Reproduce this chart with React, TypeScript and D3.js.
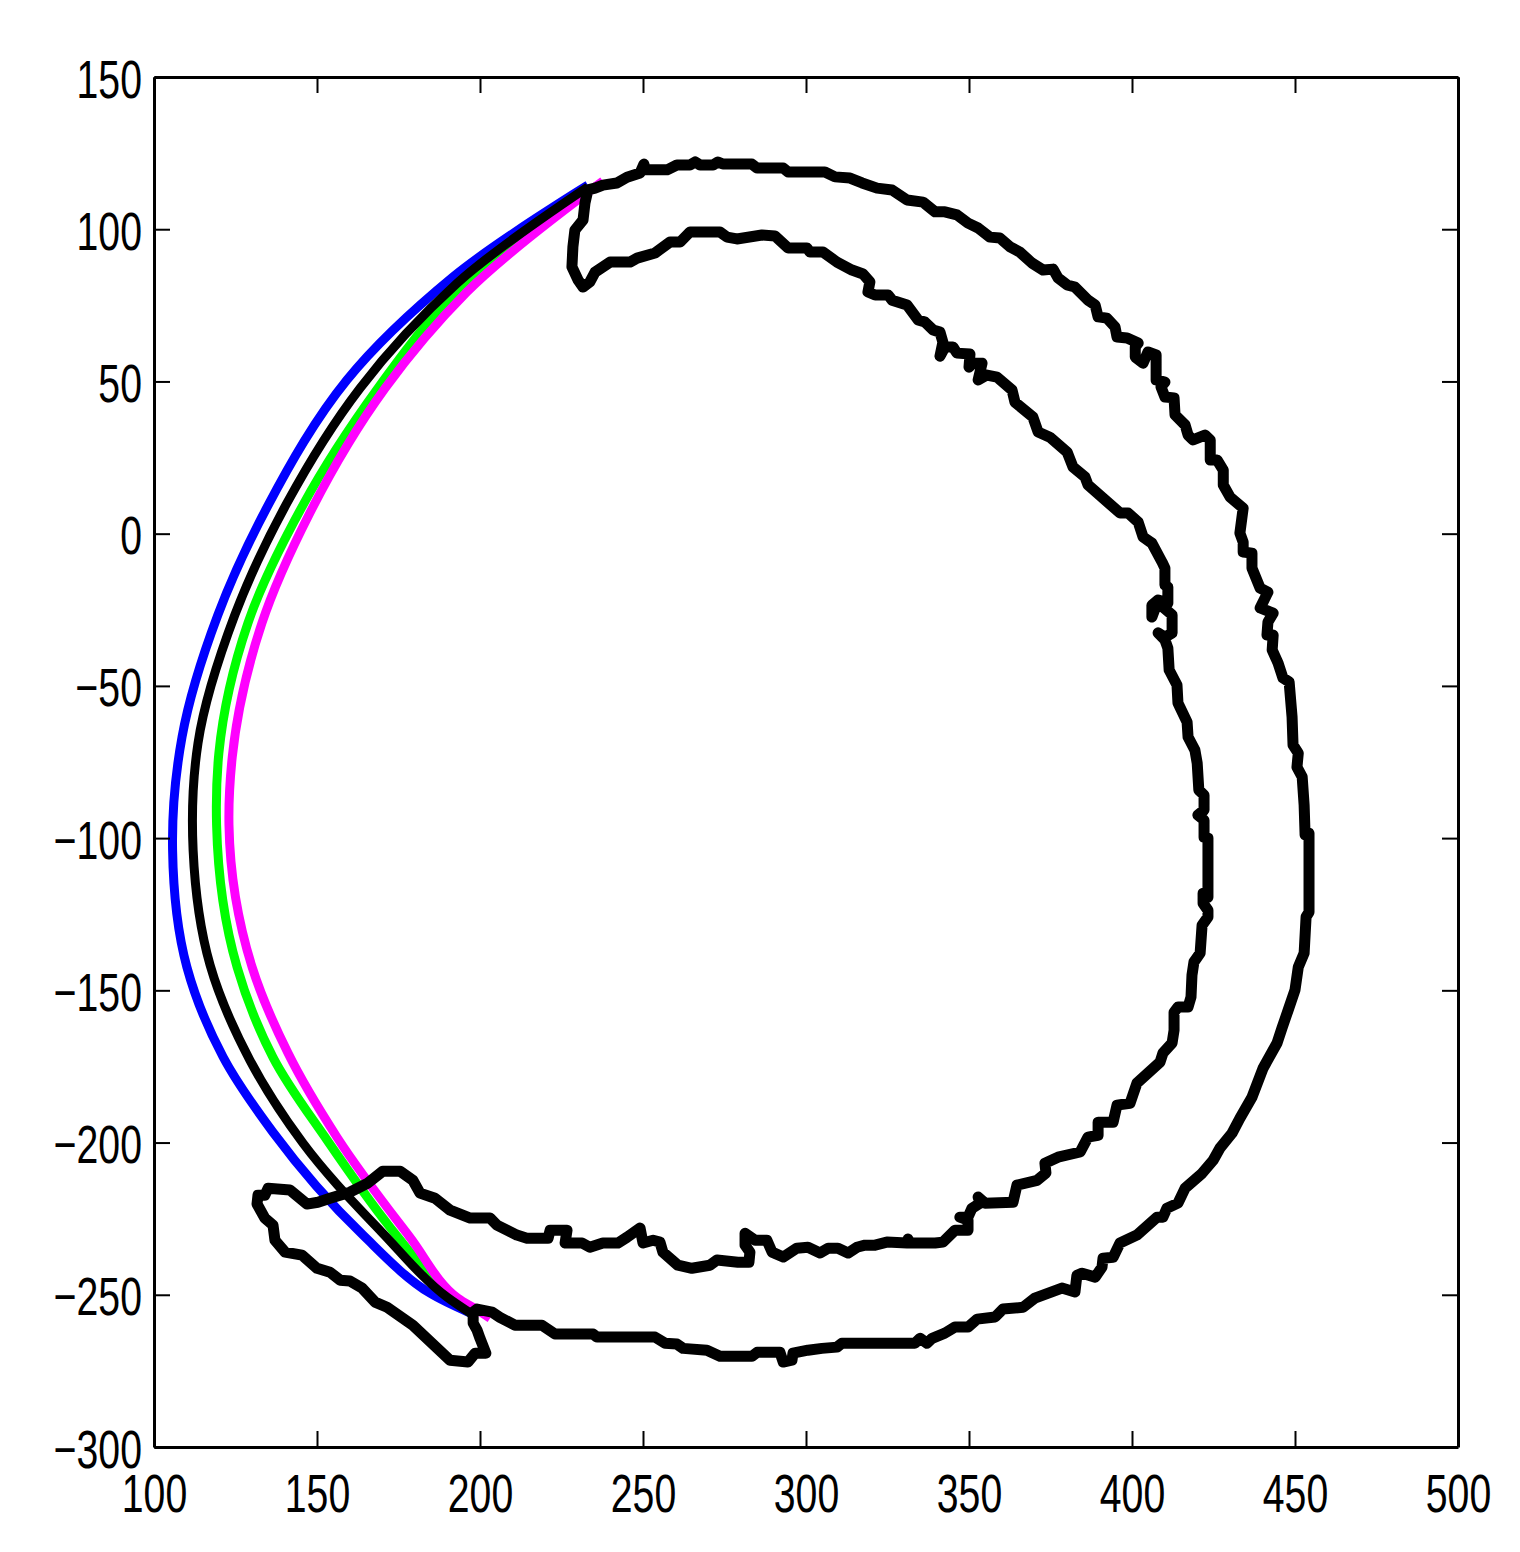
import React, { useEffect, useRef } from 'react';
import * as d3 from 'd3';

type Pt = [number, number];

const xTickValues = [100, 150, 200, 250, 300, 350, 400, 450, 500];
const yTickValues = [150, 100, 50, 0, -50, -100, -150, -200, -250, -300];

const blueCurve: Pt[] = [
  [233.1, 114.5], [191.7, 84.3], [159.2, 50.5], [134.7, 8.7], [119.6, -26.7], [108.6, -66.8], [105.7, -103.9],
  [110.1, -142.4], [121.2, -171.9], [136.5, -196.6], [164.1, -230.4], [184.7, -249.5], [197.0, -256.0],
];

const blackCurve: Pt[] = [
  [233.1, 113.9], [193.0, 82.3], [163.2, 47.8], [140.8, 10.1], [124.8, -26.7], [113.5, -68.8], [112.0, -104.0],
  [117.2, -141.7], [129.4, -172.9], [145.7, -200.2], [170.2, -229.8], [189.9, -250.8], [197.0, -256.0],
];

const greenCurve: Pt[] = [
  [233.1, 113.5], [193.9, 81.0], [168.7, 47.8], [145.7, 9.4], [128.8, -29.4], [119.9, -72.1], [119.2, -95.7],
  [125.5, -142.4], [136.5, -172.0], [153.1, -199.2], [172.4, -227.8], [189.9, -249.5], [197.0, -256.0],
];

const magentaCurve: Pt[] = [
  [237.7, 115.8], [196.0, 79.4], [170.9, 47.8], [147.8, 6.8], [133.1, -29.4], [124.0, -73.4],
  [123.0, -95.7], [130.1, -142.4], [141.1, -170.6], [156.1, -198.2], [178.5, -231.1],
  [193.2, -251.1], [199.1, -254.9], [203.1, -257.7],
];

// traced contour, clockwise from the top joint
const contour: Pt[] = [
  [233.1, 112.9], [235.3, 113.5], [237.7, 114.5], [242.0, 115.2], [245.1, 117.1], [249.1, 118.5], [250.3, 121.4],
  [250.6, 119.5], [257.4, 119.5], [260.4, 121.1], [264.4, 121.1], [266.0, 122.1], [267.5, 121.1], [271.5, 121.1],
  [273.0, 122.1], [274.5, 121.4], [283.4, 121.4], [285.0, 120.1], [293.0, 120.1], [294.5, 118.8], [305.8, 118.8],
  [308.9, 117.2], [313.5, 116.8], [317.2, 115.2], [321.8, 113.5], [326.4, 112.9], [331.0, 109.6], [335.9, 108.9],
  [339.6, 105.7], [342.6, 105.7], [346.3, 104.7], [349.7, 102.0], [352.8, 100.4], [356.4, 97.4], [359.5, 97.1],
  [362.6, 94.2], [365.6, 92.5], [369.3, 88.9], [372.7, 86.6], [375.8, 86.9], [377.3, 84.0], [380.1, 81.7],
  [382.5, 81.0], [386.5, 76.7], [388.7, 75.1], [389.6, 71.2], [392.3, 70.8], [394.8, 67.9], [395.4, 64.6],
  [398.5, 64.3], [401.9, 62.6], [401.0, 61.3], [401.0, 58.0], [403.4, 56.0], [404.9, 59.7], [407.4, 58.7],
  [407.4, 50.5], [410.1, 49.8], [408.9, 48.2], [410.1, 44.9], [412.9, 44.6], [413.2, 39.0], [416.3, 35.7],
  [417.2, 32.4], [418.7, 30.8], [422.4, 32.4], [424.0, 30.8], [424.0, 24.2], [426.1, 24.2], [428.0, 20.9],
  [428.0, 16.0], [430.1, 12.0], [434.1, 8.4], [433.1, 0.2], [434.1, -2.8], [434.1, -6.0], [436.8, -6.4],
  [436.8, -11.3], [439.3, -17.9], [441.7, -19.2], [439.3, -24.4], [443.3, -26.1], [441.7, -29.0], [441.4, -33.3],
  [443.3, -33.3], [443.0, -38.2], [444.8, -42.5], [446.3, -47.4], [448.2, -48.7], [449.1, -60.2], [449.4, -69.4],
  [451.0, -72.1], [450.6, -76.7], [452.2, -79.9], [452.8, -89.2], [453.1, -99.0], [454.3, -98.4], [454.3, -124.3],
  [453.4, -125.9], [452.8, -137.8], [451.0, -142.4], [450.0, -149.9], [447.9, -156.5], [446.0, -162.4],
  [444.5, -167.3], [440.2, -175.6], [436.8, -185.1], [433.1, -192.0], [430.7, -196.9], [427.0, -201.8],
  [424.9, -205.8], [421.5, -210.1], [416.3, -215.0], [414.1, -219.9], [410.7, -221.6], [409.5, -224.5],
  [407.7, -224.5], [401.5, -230.4], [396.3, -233.0], [394.2, -237.7], [391.1, -238.0], [390.8, -240.9],
  [388.7, -244.2], [384.7, -242.9], [383.1, -243.6], [382.5, -249.1], [378.5, -247.8], [370.2, -251.1],
  [366.6, -254.1], [360.4, -254.7], [358.0, -257.3], [352.5, -258.0], [349.7, -260.6], [345.7, -260.6],
  [342.6, -262.6], [338.7, -264.3], [337.1, -265.9], [335.0, -264.3], [333.4, -265.9], [311.0, -265.9],
  [309.5, -267.2], [304.9, -267.6], [300.6, -268.2], [296.0, -269.2], [295.7, -271.5], [293.0, -272.1],
  [292.0, -268.9], [285.0, -268.9], [283.4, -270.2], [273.6, -270.2], [269.6, -268.2], [262.3, -267.6],
  [260.4, -266.2], [256.8, -265.9], [253.7, -263.9], [235.9, -263.9], [234.7, -262.9], [223.0, -262.9],
  [219.0, -260.0], [210.7, -260.0], [206.1, -257.4], [203.7, -255.7], [199.1, -254.7], [197.9, -255.7],
  [197.9, -259.3], [199.1, -261.6], [200.0, -264.3], [201.8, -269.2], [198.5, -269.2], [196.3, -272.1],
  [190.8, -271.5], [179.4, -260.0], [171.5, -254.1], [167.8, -252.4], [163.8, -247.8], [160.1, -245.5],
  [157.1, -245.2], [154.0, -242.6], [150.0, -241.3], [145.4, -237.0], [140.2, -236.0], [137.1, -232.1],
  [136.5, -227.1], [134.0, -224.8], [131.6, -220.2], [131.9, -217.3], [134.0, -217.3], [135.0, -215.0],
  [141.7, -215.6], [146.9, -220.2], [150.3, -219.6], [154.0, -218.3], [160.1, -216.3], [165.6, -213.3],
  [170.2, -209.4], [175.5, -209.4], [179.4, -212.4], [181.6, -216.6], [186.2, -218.3], [190.8, -222.2],
  [197.0, -224.8], [203.1, -224.8], [205.2, -227.1], [211.3, -230.4], [214.4, -231.4], [220.9, -231.4],
  [221.5, -228.8], [226.7, -228.8], [226.1, -233.0], [231.3, -233.0], [233.7, -234.4], [237.7, -233.0],
  [242.3, -233.0], [245.1, -231.1], [249.1, -228.1], [250.0, -233.0], [253.1, -232.1], [255.2, -232.7],
  [256.1, -236.0], [260.7, -240.3], [265.0, -241.3], [270.5, -240.3], [272.7, -238.6], [279.1, -239.3],
  [282.5, -239.3], [282.8, -236.0], [281.3, -233.7], [281.3, -229.8], [284.4, -232.1], [288.0, -232.1],
  [289.6, -236.0], [293.0, -237.6], [297.2, -234.7], [300.6, -234.4], [304.3, -236.3], [306.8, -234.7],
  [309.8, -234.7], [312.9, -236.3], [315.6, -234.4], [318.1, -233.7], [321.2, -233.7], [324.8, -232.7],
  [331.0, -233.0], [331.3, -231.7], [331.9, -233.0], [339.6, -233.0], [342.0, -232.7], [345.7, -228.8],
  [349.7, -228.8], [349.7, -225.5], [347.2, -224.5], [349.7, -224.5], [350.9, -221.6], [353.4, -219.9],
  [352.8, -217.9], [354.9, -219.9], [363.5, -219.6], [364.7, -214.0], [370.9, -212.4], [373.6, -210.0],
  [373.3, -206.8], [377.3, -204.8], [384.1, -203.1], [386.5, -198.2], [389.6, -197.6], [389.6, -193.3],
  [394.2, -193.3], [395.4, -187.7], [399.4, -187.1], [401.5, -180.5], [408.6, -173.6], [409.5, -170.6],
  [412.3, -167.3], [412.9, -163.1], [412.9, -157.2], [414.1, -155.5], [417.2, -155.5], [418.1, -152.2],
  [418.4, -145.0], [419.0, -140.7], [420.9, -137.8], [421.5, -128.6], [423.3, -125.9], [423.3, -123.7],
  [421.8, -121.4], [421.8, -118.1], [423.3, -119.4], [423.3, -100.0], [422.1, -99.7], [422.1, -94.1],
  [420.2, -92.4], [422.1, -90.8], [422.1, -85.9], [420.5, -84.2], [420.0, -75.4], [419.3, -71.1], [417.2, -66.8],
  [416.9, -61.9], [414.7, -57.0], [414.1, -55.6], [413.8, -49.7], [411.4, -44.8], [411.0, -37.6], [410.1, -34.9],
  [408.0, -32.6], [410.1, -34.0], [412.3, -32.6], [412.3, -26.7], [409.5, -24.1], [407.7, -22.8], [406.1, -27.4],
  [406.1, -23.5], [408.0, -21.8], [411.0, -22.8], [411.0, -17.5], [410.1, -16.9], [410.1, -11.3], [409.2, -9.3],
  [406.1, -3.1], [403.4, -1.1], [401.9, 3.8], [398.8, 6.8], [396.3, 6.8], [386.5, 16.0], [385.6, 18.6],
  [381.9, 21.9], [380.1, 26.8], [374.8, 31.7], [371.2, 33.4], [369.6, 38.3], [364.1, 43.2], [363.2, 47.2],
  [358.6, 51.4], [355.5, 52.1], [352.8, 50.5], [354.0, 56.0], [351.2, 56.0], [350.0, 54.7], [350.3, 59.0],
  [346.3, 59.3], [345.1, 61.3], [342.6, 61.3], [341.1, 58.3], [342.0, 62.9], [341.1, 66.2], [339.0, 66.9],
  [336.5, 69.5], [334.4, 70.2], [331.0, 75.1], [326.4, 76.7], [325.2, 78.4], [321.2, 78.4], [319.0, 79.4],
  [319.6, 82.7], [317.5, 85.3], [314.1, 86.6], [309.5, 89.2], [305.2, 92.5], [301.2, 92.5], [300.3, 93.8],
  [294.5, 93.8], [290.5, 97.8], [286.5, 98.1], [278.8, 96.8], [275.8, 97.4], [273.6, 99.1], [264.4, 99.1],
  [261.4, 95.8], [258.3, 95.8], [253.7, 92.2], [248.2, 90.5], [246.0, 89.2], [239.9, 89.2], [235.3, 85.9],
  [233.7, 82.7], [231.6, 81.0], [230.1, 83.3], [228.2, 87.6], [228.5, 94.2], [229.1, 99.7], [231.6, 103.0],
  [232.2, 108.6], [233.1, 112.9],
];

const width = 1520;
const height = 1552;
const left = 154;
const right = 1458;
const top = 77;
const bottom = 1447;
const labelSize = 53;
const squeeze = 0.74;

const fmt = (d: d3.NumberValue) => String(d).replace('-', '\u2212');

const App: React.FC = () => {
  const svgRef = useRef<SVGSVGElement>(null);

  useEffect(() => {
    if (!svgRef.current) return;

    const svg = d3.select(svgRef.current);
    svg.selectAll('*').remove();

    const x = d3.scaleLinear().domain([100, 500]).range([left, right]);
    const y = d3.scaleLinear().domain([-300, 150]).range([bottom, top]);

    const smooth = d3.line<Pt>().x(d => x(d[0])).y(d => y(d[1])).curve(d3.curveCatmullRom.alpha(1));
    const traced = d3.line<Pt>().x(d => x(d[0])).y(d => y(d[1]));

    const curves: [Pt[], string][] = [
      [blueCurve, '#0000ff'],
      [greenCurve, '#00ff00'],
      [magentaCurve, '#ff00ff'],
      [blackCurve, '#000000'],
    ];
    curves.forEach(([pts, color]) => {
      svg.append('path')
        .attr('d', smooth(pts))
        .attr('fill', 'none')
        .attr('stroke', color)
        .attr('stroke-width', 9)
        .attr('stroke-linejoin', 'round');
    });

    svg.append('path')
      .attr('d', traced(contour))
      .attr('fill', 'none')
      .attr('stroke', '#000')
      .attr('stroke-width', 11)
      .attr('stroke-linejoin', 'round')
      .attr('stroke-linecap', 'round');

    // Axes, ticks point inward on all four sides
    const tick = 16;
    const styleAxis = (g: d3.Selection<SVGGElement, unknown, null, undefined>) => {
      g.select('.domain').attr('stroke', '#000').attr('stroke-width', 3);
      g.selectAll('.tick line').attr('stroke', '#000').attr('stroke-width', 2);
    };

    const bottomAxis = svg.append('g').attr('transform', `translate(0,${bottom})`)
      .call(d3.axisBottom(x).tickValues(xTickValues).tickSize(-tick).tickSizeOuter(0).tickFormat(fmt));
    styleAxis(bottomAxis);
    bottomAxis.selectAll<SVGTextElement, number>('.tick text')
      .attr('y', null).attr('dy', null)
      .attr('text-anchor', 'middle')
      .attr('transform', `translate(0,65) scale(${squeeze},1)`)
      .attr('font-family', '"Liberation Sans", Arial, sans-serif')
      .attr('font-size', labelSize)
      .attr('fill', '#000');

    const leftAxis = svg.append('g').attr('transform', `translate(${left},0)`)
      .call(d3.axisLeft(y).tickValues(yTickValues).tickSize(-tick).tickSizeOuter(0).tickFormat(fmt));
    styleAxis(leftAxis);
    leftAxis.selectAll<SVGTextElement, number>('.tick text')
      .attr('x', null).attr('dy', null)
      .attr('text-anchor', 'end')
      .attr('transform', `translate(-12,20) scale(${squeeze},1)`)
      .attr('font-family', '"Liberation Sans", Arial, sans-serif')
      .attr('font-size', labelSize)
      .attr('fill', '#000');

    const topAxis = svg.append('g').attr('transform', `translate(0,${top})`)
      .call(d3.axisTop(x).tickValues(xTickValues).tickSize(-tick).tickSizeOuter(0).tickFormat(() => ''));
    styleAxis(topAxis);

    const rightAxis = svg.append('g').attr('transform', `translate(${right},0)`)
      .call(d3.axisRight(y).tickValues(yTickValues).tickSize(-tick).tickSizeOuter(0).tickFormat(() => ''));
    styleAxis(rightAxis);
  }, []);

  return (
    <svg
      ref={svgRef}
      width={width}
      height={height}
      style={{ position: 'absolute', left: 0, top: 0, background: '#fff' }}
    />
  );
};

export default App;
